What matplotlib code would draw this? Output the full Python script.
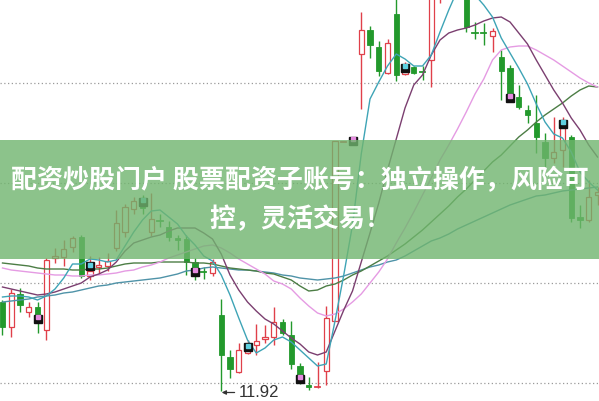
import matplotlib
matplotlib.use("Agg")
import matplotlib.pyplot as plt
from matplotlib.patches import Rectangle

# ---------------- data (prices) ----------------
opens  = [12.81,12.56,12.89,12.71,12.76,12.53,13.25,13.26,13.36,13.46,
          13.07,13.16,13.17,13.35,13.51,13.74,13.78,13.51,13.63,13.56,
          13.45,13.44,13.21,13.12,13.10,12.68,12.26,12.11,12.30,12.38,
          12.44,12.46,12.61,12.48,12.17,11.98,11.96,12.12,12.62,14.41,
          14.42,15.29,15.53,15.36,15.10,15.69,15.09,15.16,15.12,15.23,
          15.98,16.53,16.08,16.23,15.51,15.51,15.47,15.26,15.15,14.86,
          14.73,14.60,14.41,14.25,14.33,14.46,13.66,13.63,13.88]
highs  = [12.83,12.94,12.95,12.81,12.81,13.25,13.35,13.43,13.47,13.48,
          13.27,13.26,13.30,13.73,13.79,13.86,13.88,13.90,13.69,13.62,
          13.48,13.48,13.25,13.16,13.24,12.84,12.33,12.40,12.43,12.59,
          12.58,12.76,12.64,12.62,12.20,12.06,12.21,12.77,14.42,14.41,
          14.42,15.71,15.57,15.42,15.44,15.93,15.21,15.17,15.17,16.23,
          16.53,16.63,16.48,16.33,15.61,15.60,15.55,15.33,15.18,14.98,
          14.78,14.88,14.50,14.66,14.66,14.48,13.78,14.03,13.96]
lows   = [12.48,12.46,12.71,12.66,12.50,12.43,13.20,13.17,13.31,13.05,
          13.03,13.09,13.12,13.32,13.46,13.69,13.69,13.47,13.56,13.42,
          13.33,13.08,13.03,13.04,13.07,11.92,12.05,12.10,12.29,12.28,
          12.40,12.38,12.48,12.14,11.99,11.93,11.95,11.98,12.62,14.41,
          14.42,14.74,15.25,15.07,15.09,15.02,15.08,15.09,15.03,14.96,
          15.80,16.03,15.95,15.51,15.44,15.38,15.31,14.83,14.82,14.74,
          14.60,14.30,14.15,14.20,14.16,13.61,13.55,13.61,13.78]
closes = [12.56,12.90,12.78,12.76,12.68,13.23,13.27,13.34,13.45,13.07,
          13.12,13.18,13.22,13.60,13.76,13.82,13.75,13.64,13.62,13.46,
          13.43,13.21,13.15,13.11,13.21,12.28,12.14,12.33,12.33,12.42,
          12.46,12.61,12.50,12.19,12.08,11.96,11.97,12.65,14.42,14.41,
          14.42,15.53,15.38,15.12,15.40,15.08,15.12,15.10,15.11,16.08,
          16.43,16.23,16.38,15.56,15.50,15.50,15.52,15.12,14.89,14.76,
          14.68,14.46,14.25,14.31,14.56,13.65,13.63,13.86,13.91]

ma5  = [12.86,12.87,12.87,12.86,12.83,12.87,12.94,13.05,13.19,13.19,
        13.24,13.23,13.21,13.23,13.37,13.51,13.63,13.72,13.73,13.66,
        13.59,13.47,13.38,13.27,13.22,13.08,12.88,12.65,12.43,12.30,
        12.35,12.43,12.46,12.41,12.33,12.25,12.17,12.19,12.62,13.08,
        13.58,14.29,14.84,15.01,15.17,15.29,15.24,15.17,15.17,15.28,
        15.51,15.73,15.93,15.98,15.88,15.78,15.66,15.45,15.30,15.15,
        14.99,14.79,14.61,14.49,14.45,14.31,14.11,14.01,13.93]
ma10 = [12.96,12.94,12.92,12.90,12.88,12.89,12.91,12.94,12.97,13.00,
        13.06,13.09,13.13,13.21,13.32,13.40,13.43,13.46,13.48,13.52,
        13.55,13.55,13.55,13.50,13.44,13.29,13.08,12.93,12.81,12.72,
        12.64,12.59,12.52,12.45,12.39,12.31,12.28,12.31,12.52,12.73,
        12.92,13.21,13.50,13.80,14.13,14.44,14.75,14.98,15.08,15.28,
        15.43,15.50,15.53,15.55,15.58,15.62,15.65,15.66,15.61,15.50,
        15.39,15.23,15.08,14.93,14.80,14.65,14.53,14.38,14.26]
ma20 = [13.15,13.13,13.12,13.11,13.10,13.09,13.08,13.08,13.07,13.07,
        13.08,13.08,13.09,13.10,13.12,13.13,13.16,13.18,13.21,13.25,
        13.28,13.31,13.34,13.37,13.38,13.35,13.30,13.24,13.19,13.14,
        13.09,13.02,12.99,12.94,12.85,12.77,12.70,12.67,12.69,12.74,
        12.81,12.89,13.00,13.11,13.24,13.40,13.55,13.71,13.88,14.05,
        14.23,14.38,14.54,14.71,14.89,15.04,15.23,15.33,15.36,15.37,
        15.37,15.33,15.28,15.23,15.17,15.11,15.05,15.00,14.96]
ma30 = [13.20,13.19,13.18,13.17,13.15,13.14,13.14,13.14,13.13,13.13,
        13.14,13.14,13.15,13.17,13.19,13.20,13.20,13.20,13.21,13.21,
        13.21,13.21,13.20,13.20,13.19,13.17,13.15,13.14,13.13,13.12,
        13.10,13.09,13.06,13.03,12.97,12.92,12.93,12.97,12.99,13.03,
        13.08,13.12,13.17,13.22,13.27,13.33,13.39,13.46,13.53,13.61,
        13.69,13.77,13.86,13.94,14.03,14.12,14.21,14.28,14.37,14.46,
        14.53,14.61,14.68,14.74,14.80,14.87,14.93,14.97,14.96]
ma60 = [12.81,12.82,12.83,12.84,12.86,12.87,12.88,12.90,12.91,12.93,
        12.95,12.97,12.98,13.00,13.01,13.02,13.03,13.04,13.05,13.07,
        13.09,13.12,13.13,13.15,13.16,13.15,13.14,13.13,13.13,13.12,
        13.11,13.10,13.08,13.07,13.05,13.04,13.03,13.04,13.05,13.07,
        13.10,13.13,13.16,13.18,13.21,13.23,13.27,13.32,13.37,13.42,
        13.45,13.49,13.54,13.58,13.62,13.66,13.70,13.74,13.78,13.81,
        13.84,13.87,13.88,13.90,13.92,13.93,13.94,13.95,13.96]

mark_idx    = [4, 10, 16, 22, 28, 34, 40, 46, 58, 64]
mark_price  = [12.645, 13.17, 13.815, 13.115, 12.36, 12.045, 14.425, 15.155, 14.855, 14.595]
mark_kind   = ["pink", "cyan", "cyan", "pink", "cyan", "pink", "pink", "cyan", "pink", "cyan"]

low_label = "11.92"
low_index = 25
grid_levels = [12, 13, 14, 15]

title_line1 = "配资炒股门户 股票配资子账号：独立操作，风险可"
title_line2 = "控，灵活交易！"

# ---------------- drawing ----------------
RED = "#e0404a"
GREEN = "#23992c"

fig = plt.figure(figsize=(5.99, 4.01), dpi=100)
ax = fig.add_axes([0, 0, 1, 1])
ax.set_xlim(-0.2857, 68.17)
ax.set_ylim(11.82, 15.83)
ax.axis("off")

for g in grid_levels:
    ax.axhline(g, color="#9a9a9a", lw=0.9, ls=(0, (1, 2)), zorder=1)

n = len(opens)
xs = list(range(n))
bw = 0.58
for i in range(n):
    o, h, l, c = opens[i], highs[i], lows[i], closes[i]
    up = c >= o
    col = RED if up else GREEN
    ax.plot([i, i], [l, h], color=col, lw=1.0, zorder=3, solid_capstyle="butt")
    lo, hi = min(o, c), max(o, c)
    if hi - lo < 0.012:
        ax.plot([i - bw / 2, i + bw / 2], [(o + c) / 2] * 2, color=col, lw=1.3, zorder=4)
    elif up:
        ax.add_patch(Rectangle((i - bw / 2, lo), bw, hi - lo, facecolor="white",
                               edgecolor=col, lw=0.9, zorder=4))
    else:
        ax.add_patch(Rectangle((i - bw / 2, lo), bw, hi - lo, facecolor=col,
                               edgecolor=col, lw=0.6, zorder=4))

ax.plot(xs, ma60, color="#4f93a8", lw=1.0, zorder=5)
ax.plot(xs, ma30, color="#4c7d45", lw=1.0, zorder=5)
ax.plot(xs, ma20, color="#e59be3", lw=1.0, zorder=5)
ax.plot(xs, ma10, color="#7b3f70", lw=1.0, zorder=5)
ax.plot(xs, ma5, color="#3ea4b6", lw=1.0, zorder=5)

kind_col = {"pink": "#e58be0", "cyan": "#5fd0e0"}
for i, p, k in zip(mark_idx, mark_price, mark_kind):
    ax.plot([i], [p], marker="s", ms=5.2, color="#111111", mec="#111111", zorder=6)
    ax.plot([i], [p + 0.012], marker="s", ms=2.3, color=kind_col[k], mec=kind_col[k], zorder=7)

ax.annotate(low_label, xy=(low_index + 0.05, 11.905), xytext=(27.0, 11.905),
            ha="left", va="center", fontsize=12, color="#333333",
            family=["Liberation Sans", "DejaVu Sans"],
            arrowprops=dict(arrowstyle="-|>", color="#333333", lw=0.9,
                            shrinkA=1, shrinkB=0, mutation_scale=6),
            zorder=8)

# banner
ax.axhspan(13.24, 14.43, facecolor=(0.44, 0.71, 0.43), alpha=0.8, lw=0, zorder=10)
fam = ["Noto Sans CJK SC", "DejaVu Sans"]
fig.text(300 / 599, 1 - 181 / 401, title_line1, ha="center", va="center",
         fontsize=18.7, fontweight="bold", color="white", family=fam, zorder=11)
fig.text(300 / 599, 1 - 220 / 401, title_line2, ha="center", va="center",
         fontsize=18.7, fontweight="bold", color="white", family=fam, zorder=11)

fig.savefig("out.png", dpi=100)
